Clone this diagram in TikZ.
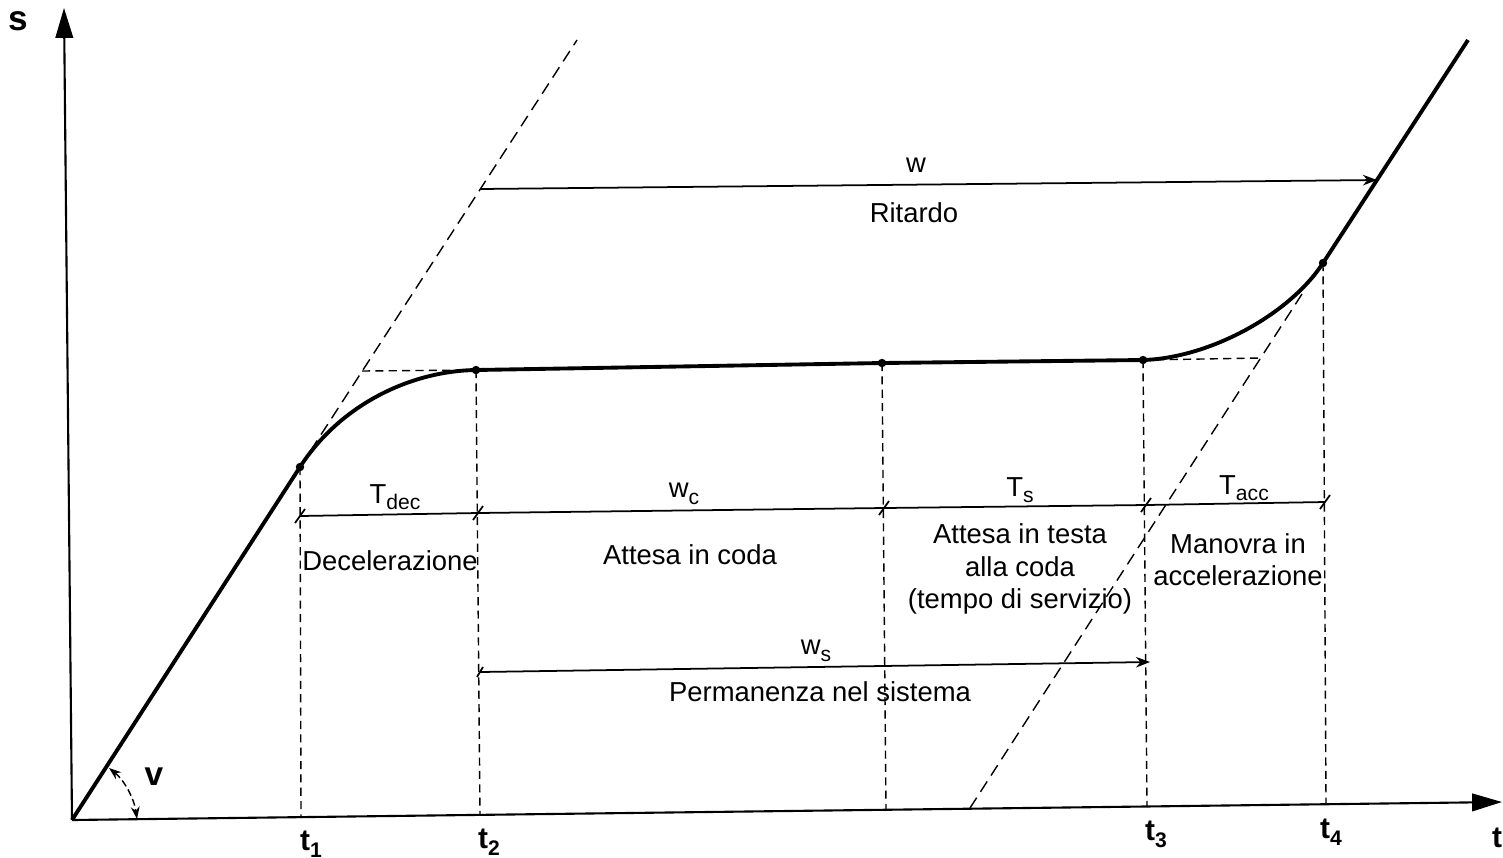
\documentclass[tikz,border=0pt]{standalone}
\usepackage{fontspec}
\setmainfont{Liberation Sans}
\usetikzlibrary{arrows.meta}
\newcommand\lowsub[1]{\raisebox{-0.45ex}{\fontsize{6}{6}\selectfont #1}}
\begin{document}
\begin{tikzpicture}[x=0.01cm,y=-0.01cm,
  axis/.style={line width=0.6pt, -{Triangle[length=8.5pt,width=5pt]}},
  traj/.style={line width=1.1pt, line join=round},
  guide/.style={line width=0.4pt, dash pattern=on 2.3pt off 1.5pt},
  tang/.style={line width=0.4pt, dash pattern=on 3.5pt off 2pt},
  dim/.style={line width=0.5pt},
  lbl/.style={font=\fontsize{7.8}{9.2}\selectfont, inner sep=0pt, align=center},
  axlbl/.style={font=\fontsize{8.5}{9}\selectfont\bfseries, inner sep=0pt},
  dot/.style={circle, fill, inner sep=0pt, minimum size=2.4pt}]
\useasboundingbox (0,0) rectangle (1503,857);
% axes
\coordinate (O) at (72,820);
\coordinate (Ytip) at (64,8);
\coordinate (Xtip) at (1502,802);
\draw[axis] (O) -- (Ytip);
\draw[axis] (O) -- (Xtip);
% trajectory points
\coordinate (P1) at (300,467);
\coordinate (P2) at (476,370);
\coordinate (M) at (882,363);
\coordinate (P3) at (1143,360);
\coordinate (P4) at (1323,263);
\coordinate (E) at (1468,40);
\draw[traj] (O) -- (P1) .. controls (340,405) and (410,371) .. (P2) -- (M) -- (P3)
  .. controls (1210,358) and (1290,314) .. (P4) -- (E);
\foreach \p in {P1,P2,M,P3,P4} \node[dot] at (\p) {};
% tangent dashed lines
\coordinate (T1) at (577,40);
\coordinate (H1) at (362,371);
\draw[tang] (P1) -- (T1);
\draw[guide] (H1) -- (P2);
\coordinate (B2) at (970,808);
\coordinate (T2) at (1302,294);
\coordinate (H2) at (1260,358);
\draw[tang] (B2) -- (T2);
\draw[guide] (P3) -- (H2);
% vertical guides
\coordinate (V1) at (301,818);
\coordinate (V2) at (480,815);
\coordinate (VM) at (886,810);
\coordinate (V3) at (1147,806);
\coordinate (V4) at (1326,803);
\draw[guide] (P1) -- (V1);
\draw[guide] (P2) -- (V2);
\draw[guide] (M) -- (VM);
\draw[guide] (P3) -- (V3);
\draw[guide] (P4) -- (V4);
% dimension line T
\coordinate (d1) at (300,516);
\coordinate (d2) at (478,513);
\coordinate (d3) at (884,508);
\coordinate (d4) at (1146,505);
\coordinate (d5) at (1325,502);
\draw[dim] (d1) -- (d2) -- (d3) -- (d4) -- (d5);
\foreach \p in {d1,d2,d3,d4,d5} \draw[dim] (\p) ++(-5,7) -- ++(10,-14);
% w line
\coordinate (w1) at (480,189);
\coordinate (w2) at (1377,180);
\draw[dim, -{Stealth[length=4pt,width=3pt]}] (w1) -- (w2);
% ws line
\coordinate (s1) at (480,672);
\coordinate (s2) at (1150,662);
\draw[dim, -{Stealth[length=4pt,width=3pt]}] (s1) -- (s2);
\draw[dim] (s1) ++(-3,5) -- ++(6,-10);
% angle arc
\coordinate (a1) at (109,768);
\coordinate (a2) at (137,819);
\draw[line width=0.4pt, dash pattern=on 2pt off 1pt, {Stealth[length=3.5pt,width=2.5pt]}-{Stealth[length=3.5pt,width=2.5pt]}]
  (a1) .. controls (124,780) and (134,798) .. (a2);
% labels
\node[axlbl, font=\fontsize{10}{10}\selectfont\bfseries] (ls) at (18,21) {s};
\node[axlbl] (lt) at (1497,838) {t};
\node[axlbl, font=\fontsize{9.5}{10}\selectfont\bfseries] (lv) at (154,777) {v};
\node[axlbl] (lt1) at (311,844) {t\lowsub{1}};
\node[axlbl] (lt2) at (489,842) {t\lowsub{2}};
\node[axlbl] (lt3) at (1156,834) {t\lowsub{3}};
\node[axlbl] (lt4) at (1331,832) {t\lowsub{4}};
\node[lbl] (lw) at (916,165) {w};
\node[lbl] (lrit) at (914,213) {Ritardo};
\node[lbl] (ltdec) at (395,497) {T\lowsub{dec}};
\node[lbl] (ldec) at (390,561) {Decelerazione};
\node[lbl] (lwc) at (684,494) {w\lowsub{c}};
\node[lbl] (latt) at (690,555) {Attesa in coda};
\node[lbl] (lts) at (1020,490) {T\lowsub{s}};
\node[lbl] (ltesta) at (1020,569) {Attesa in testa\\alla coda\\(tempo di servizio)};
\node[lbl] (ltacc) at (1244,488) {T\lowsub{acc}};
\node[lbl] (lman) at (1238,560) {Manovra in\\accelerazione};
\node[lbl] (lws) at (816,651) {w\lowsub{s}};
\node[lbl] (lperm) at (820,692) {Permanenza nel sistema};
\end{tikzpicture}
\end{document}
